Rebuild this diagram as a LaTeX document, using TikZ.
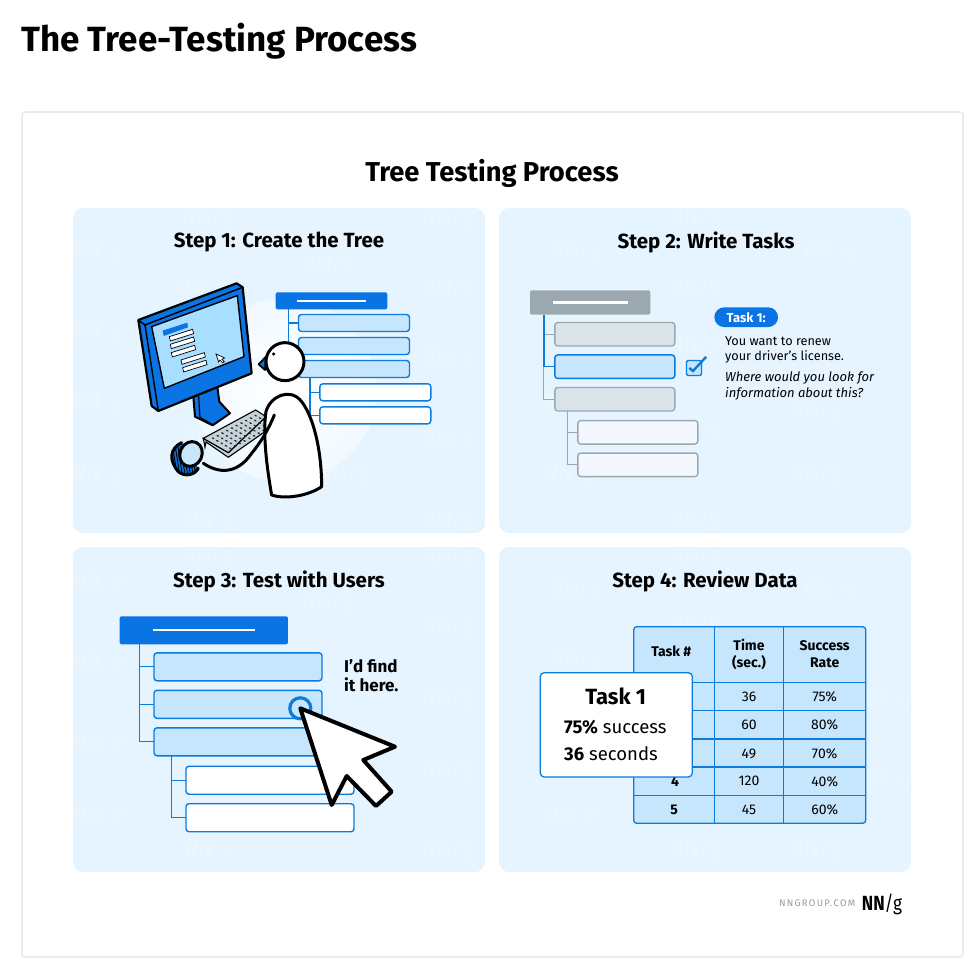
\documentclass[tikz,border=0pt]{standalone}
\usepackage{fontspec}
\setmainfont{Fira Sans}
\usepackage{tikz}
\usetikzlibrary{positioning}

\definecolor{nnblue}{HTML}{0B74E5}
\definecolor{linkblue}{HTML}{0B7BDC}
\definecolor{panelblue}{HTML}{E5F4FF}
\definecolor{leafblue}{HTML}{C5E6FC}
\definecolor{screenblue}{HTML}{A8DEFF}
\definecolor{greyline}{HTML}{9CA8AF}
\definecolor{greyfill}{HTML}{DAE3E8}
\definecolor{greypale}{HTML}{F2F8FD}
\definecolor{keygrey}{HTML}{C4D3DA}

\begin{document}
\begin{tikzpicture}[
x=1pt, y=-1pt,
panel/.style={fill=panelblue, rounded corners=10pt},
steptitle/.style={font=\bfseries\fontsize{20.5}{24}\selectfont},
rootbox/.style={rectangle, fill=nnblue, rounded corners=2pt, inner sep=0pt, outer sep=0pt},
leaf/.style={rectangle, draw=linkblue, line width=1.4pt, fill=leafblue, rounded corners=3pt, inner sep=0pt, outer sep=0pt},
subleaf/.style={leaf, fill=white},
greyleaf/.style={leaf, draw=greyline, fill=greyfill},
greysub/.style={leaf, draw=greyline, fill=greypale},
branch/.style={draw=linkblue, line width=1.2pt},
greybranch/.style={draw=greyline, line width=1.2pt},
rootline/.style={draw=white, line width=2.2pt},
ink/.style={draw=black, line width=3pt, line join=round, line cap=round},
cell/.style={font=\fontsize{14}{17}\selectfont, align=center, inner sep=0pt},
headcell/.style={font=\bfseries\fontsize{14}{17}\selectfont, align=center, inner sep=0pt},
gridline/.style={draw=linkblue, line width=1.3pt},
plain/.style={anchor=west, inner sep=0pt, font=\fontsize{12.7}{15}\selectfont},
tilted/.style={anchor=west, inner sep=0pt, font=\itshape\fontsize{13}{15}\selectfont}
]
    \useasboundingbox (0,0) rectangle (980,977);

    %Frame and titles
    \fill[white] (0,0) rectangle (980,977);
    \draw[draw=black!8, line width=1.6pt, rounded corners=3pt] (22,112) rectangle (963,957);
    \node[anchor=west, inner sep=0pt, font=\bfseries\fontsize{35}{40}\selectfont] (pagetitle) at (21,41) {The Tree-Testing Process};
    \node[inner sep=0pt, font=\bfseries\fontsize{27.3}{32}\selectfont] (maintitle) at (492,173) {Tree Testing Process};

    %Panels
    \fill[panel] (73,208) rectangle (485,533);
    \fill[panel] (499,208) rectangle (911,533);
    \fill[panel] (73,547) rectangle (485,872);
    \fill[panel] (499,547) rectangle (911,872);

    %Watermarks
    \begin{scope}
    \clip (73,208) rectangle (485,533) (499,208) rectangle (911,533) (73,547) rectangle (485,872) (499,547) rectangle (911,872);
    \foreach \wx/\wy in {208/218,448/218,97/252,328/264,202/287,448/287,97/332,448/358,97/403,208/437,448/438,98/475,343/475,210/520,448/520,
        695/217,575/252,830/252,695/287,695/345,572/403,815/412,695/433,570/475,815/475,695/520,
        208/557,448/557,98/582,328/602,448/627,98/662,448/698,98/743,448/770,98/815,210/850,448/850,
        575/590,695/557,830/590,575/660,695/623,570/815,695/850,885/700,885/780,815/850}
        \node[text=white, opacity=0.22, inner sep=0pt, font=\fontsize{22}{24}\selectfont] (wm\wx\wy) at (\wx,\wy) {\textbf{NN}/g};
    \end{scope}

    %Step titles
    \node[steptitle] (s1) at (279,242) {Step 1: Create the Tree};
    \node[steptitle] (s2) at (706,242) {Step 2: Write Tasks};
    \node[steptitle] (s3) at (279,581) {Step 3: Test with Users};
    \node[steptitle] (s4) at (705,581) {Step 4: Review Data};

    %Step 1 tree
    \shade[inner color=white, outer color=white!45!panelblue] (285,390) circle (92);
    \node[rootbox, minimum width=111.6pt, minimum height=17pt] (r1) at (331.5,300.8) {};
    \node[leaf, minimum width=111pt, minimum height=17pt] (a1) at (354,323) {};
    \node[leaf, minimum width=111pt, minimum height=17pt] (a2) [below=6pt of a1] {};
    \node[leaf, minimum width=111pt, minimum height=17pt] (a3) [below=6pt of a2] {};
    \node[subleaf, minimum width=111pt, minimum height=17pt] (a4) at (375.3,392.3) {};
    \node[subleaf, minimum width=111pt, minimum height=17pt] (a5) [below=6pt of a4] {};
    \draw[rootline] ([xshift=-34.5pt]r1.center) -- ([xshift=34.5pt]r1.center);
    \draw[branch] ([xshift=13pt]r1.south west) |- (a1.west);
    \draw[branch] ([xshift=13pt]r1.south west) |- (a2.west);
    \draw[branch] ([xshift=13pt]r1.south west) |- (a3.west);
    \draw[branch] ([xshift=11.5pt]a3.south west) |- (a4.west);
    \draw[branch] ([xshift=11.5pt]a3.south west) |- (a5.west);

    %Step 1 figure, in steps of a third of a pixel
    \begin{scope}[shift={(70,200)}, x=0.3333pt, y=-0.3333pt]
        % stand
        \draw[ink, line width=2pt, fill=nnblue] (370,590) -- (375,650) -- (428,676) -- (480,640) -- (448,605) -- (442,560) -- cycle;
        \draw[ink, line width=1.2pt] (386,590) -- (390,652) -- (428,674);
        % monitor
        \draw[ink, line width=2.2pt, fill=nnblue] (205,360) -- (500,250) -- (518,262) -- (545,520) -- (265,633) -- (245,618) -- cycle;
        \draw[ink, line width=1.4pt] (205,360) -- (225,375) -- (518,262);
        \draw[ink, line width=1.4pt] (225,375) -- (265,633);
        \draw[ink, line width=1.4pt, fill=screenblue] (245,380) -- (502,287) -- (522,470) -- (283,565) -- cycle;
        \fill[nnblue] (278,392) -- (352,368) -- (354,382) -- (281,408) -- cycle;
        \foreach \bx/\by in {298/410,301/433,304/458,333/480,338/503}
            \draw[black, line width=0.7pt, fill=white] (\bx,\by) -- ++(70,-22) -- ++(3,13) -- ++(-70,22) -- cycle;
        \draw[black, line width=0.7pt, fill=white] (438,462) -- (464,474) -- (456,478) -- (463,485) -- (458,488) -- (450,480) -- (446,486) -- cycle;
        % keyboard
        \draw[black, line width=1.1pt, fill=keygrey] (400,715) -- (405,742) -- (408,726) -- (475,772) -- (585,695) -- (588,650) -- (475,758) -- cycle;
        \draw[black, line width=1.1pt, fill=keygrey] (400,715) -- (557,630) -- (588,650) -- (475,758) -- cycle;
        \foreach \ku in {1,...,10}
            \foreach \kv in {1,...,5}
                \fill[black!85, rotate around={-28:({402+\ku*14.2+\kv*13},{715-\ku*7.6+\kv*7.6})}] ({402+\ku*14.2+\kv*13},{715-\ku*7.6+\kv*7.6}) ellipse (4.8 and 2.6);
        % mouse
        \begin{scope}
            \clip (335,728) .. controls (300,745) and (295,780) .. (325,815) .. controls (345,832) and (375,825) .. (385,805) -- cycle;
            \fill[nnblue] (290,720) rectangle (390,835);
            \foreach \hx in {300,308,...,372}
                \draw[black, line width=0.9pt] (\hx,740) -- (\hx+14,830);
        \end{scope}
        \draw[ink] (335,728) .. controls (300,745) and (295,780) .. (325,815) .. controls (345,832) and (375,825) .. (385,805);
        \draw[ink, fill=leafblue, rotate around={-25:(363,762)}] (363,762) ellipse (33 and 38);
        % person
        \draw[ink, fill=white] (605,885) .. controls (590,800) and (578,700) .. (588,635) .. controls (600,590) and (660,560) .. (695,605) .. controls (730,650) and (755,750) .. (755,860) .. controls (720,885) and (650,900) .. (605,885) -- cycle;
        \draw[ink] (400,790) .. controls (445,820) and (500,825) .. (545,760) .. controls (570,730) and (595,690) .. (613,645);
        \draw[ink, line width=1.8pt, fill=nnblue] (588,470) -- (566,493) -- (585,510) -- cycle;
        \draw[ink, fill=white] (645,485) circle (57);
        \fill[black] (611,462) circle (5);
    \end{scope}

    %Step 2 tree
    \node[rootbox, fill=greyline, minimum width=120.3pt, minimum height=24.4pt] (r2) at (590.2,302.5) {};
    \node[greyleaf, minimum width=120pt, minimum height=23.5pt] (b1) at (614.8,334.2) {};
    \node[leaf, line width=1.5pt, minimum width=120pt, minimum height=23.5pt] (b2) [below=9pt of b1] {};
    \node[greyleaf, minimum width=120pt, minimum height=23.5pt] (b3) [below=9pt of b2] {};
    \node[greysub, minimum width=120pt, minimum height=23.5pt] (b4) at (637.8,432.3) {};
    \node[greysub, minimum width=120pt, minimum height=23.5pt] (b5) [below=9pt of b4] {};
    \draw[rootline] ([xshift=-37.3pt]r2.center) -- ([xshift=37.3pt]r2.center);
    \draw[greybranch] ([xshift=13.7pt]r2.south west) |- (b1.west);
    \draw[greybranch] ([xshift=13.7pt]r2.south west) |- (b3.west);
    \draw[branch, line width=1.5pt] ([xshift=13.7pt]r2.south west) |- (b2.west);
    \draw[greybranch] ([xshift=12.7pt]b3.south west) |- (b4.west);
    \draw[greybranch] ([xshift=12.7pt]b3.south west) |- (b5.west);
    \node[rectangle, draw=linkblue, line width=1.4pt, fill=leafblue, rounded corners=2pt, minimum size=15pt, inner sep=0pt] (checkbox) at (694,368) {};
    \draw[draw=linkblue, line width=2.4pt] ([shift={(3.5pt,0pt)}]checkbox.west) -- ([shift={(-1pt,-3pt)}]checkbox.center) -- ([shift={(4pt,3pt)}]checkbox.north east);
    \node[rectangle, fill=nnblue, rounded corners=9.8pt, text=white, minimum width=63.7pt, minimum height=19.7pt, inner sep=0pt, font=\bfseries\fontsize{13}{15}\selectfont] (task) at (746.2,317.2) {Task 1:};
    \node[plain] (tl1) at (725,341.5) {You want to renew};
    \node[plain] (tl2) at (725,357) {your driver’s license.};
    \node[tilted] (tl3) at (725,378) {Where would you look for};
    \node[tilted] (tl4) at (725,393.5) {information about this?};

    %Step 3 tree
    \node[rootbox, minimum width=168.3pt, minimum height=28pt] (r3) at (203.8,630.3) {};
    \node[leaf, minimum width=168pt, minimum height=28pt] (c1) at (238,666.8) {};
    \node[leaf, minimum width=168pt, minimum height=28pt] (c2) [below=9.5pt of c1] {};
    \node[leaf, minimum width=168pt, minimum height=28pt] (c3) [below=9.5pt of c2] {};
    \node[subleaf, minimum width=168pt, minimum height=28pt] (c4) at (270,780.2) {};
    \node[subleaf, minimum width=168pt, minimum height=28pt] (c5) [below=9.5pt of c4] {};
    \draw[rootline] ([xshift=-51.3pt]r3.center) -- ([xshift=51.3pt]r3.center);
    \draw[branch] ([xshift=19.6pt]r3.south west) |- (c1.west);
    \draw[branch] ([xshift=19.6pt]r3.south west) |- (c2.west);
    \draw[branch] ([xshift=19.6pt]r3.south west) |- (c3.west);
    \draw[branch] ([xshift=17.6pt]c3.south west) |- (c4.west);
    \draw[branch] ([xshift=17.6pt]c3.south west) |- (c5.west);
    \node[anchor=west, inner sep=0pt, align=left, font=\bfseries\fontsize{17}{19}\selectfont] (said) at (344,675.5) {I’d find\\it here.};
    \node[circle, draw=linkblue, line width=3.2pt, fill=leafblue, minimum size=21pt, inner sep=0pt] (hit) at (300.3,708.3) {};
    \draw[ink, line width=4pt, fill=white] (hit.center) -- (395,746.7) -- (363.3,760) -- (391.7,791.7) -- (376,806) -- (346.7,776) -- (331.7,805) -- cycle;

    %Step 4 table
    \draw[gridline, fill=leafblue, rounded corners=3pt] (633.7,626.7) rectangle (865.7,823.3);
    \foreach \gy in {682.3,710.7,739,767,795.3}
        \draw[gridline] (633.7,\gy) -- (865.7,\gy);
    \draw[gridline] (714.3,626.7) -- (714.3,823.3);
    \draw[gridline] (783.3,626.7) -- (783.3,823.3);
    \node[headcell] (h1) at (671.3,651.7) {Task \#};
    \node[headcell] (h2) at (749,654) {Time\\(sec.)};
    \node[headcell] (h3) at (824.7,654) {Success\\Rate};
    \foreach \ry/\tval/\sval in {697/36/75,724.7/60/80,754/49/70,781.3/120/40,809.7/45/60} {
        \node[cell] (t\tval) at (749,\ry) {\tval};
        \node[cell] (p\tval) at (824.7,\ry) {\sval\%};
    }
    \node[headcell] (n4) at (675,781.3) {4};
    \node[headcell] (n5) at (674,809.7) {5};
    \draw[gridline, fill=white, rounded corners=4pt] (540.3,672.7) rectangle (692.3,777);
    \node[inner sep=0pt, font=\bfseries\fontsize{22}{24}\selectfont] (cardtitle) at (615.7,696.7) {Task 1};
    \node[anchor=west, inner sep=0pt, font=\fontsize{18.5}{22}\selectfont] (cardrate) at (564,727.7) {\textbf{75\%} success};
    \node[anchor=west, inner sep=0pt, font=\fontsize{18.5}{22}\selectfont] (cardtime) at (564,753.3) {\textbf{36} seconds};

    %Footer
    \node[anchor=east, inner sep=0pt, text=black!40, font=\fontsize{9.5}{11}\selectfont\addfontfeatures{LetterSpace=14}] (site) at (855.5,903) {NNGROUP.COM};
    \node[anchor=west, inner sep=0pt, xscale=0.84, transform shape, font=\fontsize{20.5}{24}\selectfont] (logo) at (861.7,904) {\textbf{NN}/g};
\end{tikzpicture}
\end{document}
